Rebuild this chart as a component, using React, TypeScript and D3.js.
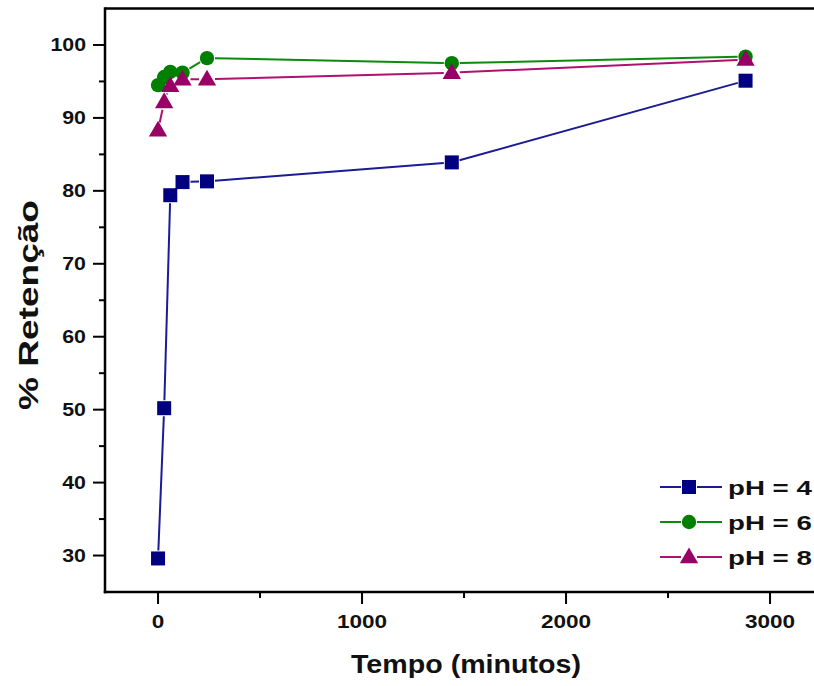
import React from "react";
import * as d3 from "d3";

const times = [0, 30, 60, 120, 240, 1440, 2880];
const ph4 = [29.6, 50.2, 79.4, 81.2, 81.3, 83.9, 95.1];
const ph6 = [94.5, 95.6, 96.3, 96.2, 98.2, 97.5, 98.4];
const ph8 = [88.3, 92.2, 94.4, 95.3, 95.3, 96.2, 98.0];
const seriesNames = ["pH = 4", "pH = 6", "pH = 8"];
const xMajor = [0, 1000, 2000, 3000];
const xMinor = [500, 1500, 2500];
const yMajor = [30, 40, 50, 60, 70, 80, 90, 100];
const yMinor = [35, 45, 55, 65, 75, 85, 95];

const W = 814;
const H = 686;
const left = 105;
const top = 8.5;
const bottom = 592;

const x = d3.scaleLinear().domain([-260, 3300]).range([left, left + 3560 * 0.204]);
const y = d3.scaleLinear().domain([25, 105]).range([bottom, top]);

const colors = [
  { line: "#1b1b96", fill: "#000080" },
  { line: "#0b8a0b", fill: "#008000" },
  { line: "#b0106e", fill: "#990066" },
];
const shapes = ["square", "circle", "triangle"];
const allSeries = [ph4, ph6, ph8];

function Marker({ shape, cx, cy, fill }: { shape: string; cx: number; cy: number; fill: string }) {
  if (shape === "square") return <rect x={cx - 7} y={cy - 7} width={14} height={14} fill={fill} />;
  if (shape === "circle") return <circle cx={cx} cy={cy} r={7.2} fill={fill} />;
  const p = d3.symbol().type(d3.symbolTriangle).size(145)();
  return <path d={p || ""} transform={`translate(${cx},${cy + 1})`} fill={fill} />;
}

function segments(vals: number[], gap: number) {
  const segs: [number, number, number, number][] = [];
  for (let i = 0; i < vals.length - 1; i++) {
    const x1 = x(times[i]), y1 = y(vals[i]), x2 = x(times[i + 1]), y2 = y(vals[i + 1]);
    const dx = x2 - x1, dy = y2 - y1;
    const len = Math.hypot(dx, dy);
    if (len <= gap * 2) continue;
    const ux = dx / len, uy = dy / len;
    segs.push([x1 + ux * gap, y1 + uy * gap, x2 - ux * gap, y2 - uy * gap]);
  }
  return segs;
}

const font = "'Liberation Sans', Arial, sans-serif";

function SText({ x: tx, y: ty, sx, anchor, size, children }: any) {
  return (
    <text
      transform={`translate(${tx},${ty}) scale(${sx},1)`}
      textAnchor={anchor}
      fontFamily={font}
      fontWeight="bold"
      fontSize={size}
      fill="#111"
    >
      {children}
    </text>
  );
}

export default function App() {
  return (
    <svg width={W} height={H} style={{ position: "absolute", left: 0, top: 0, background: "#fff" }}>
      <rect x={0} y={0} width={W} height={H} fill="#fff" />
      {allSeries.map((vals, si) =>
        segments(vals, 8).map((s, i) => (
          <line key={`${si}-${i}`} x1={s[0]} y1={s[1]} x2={s[2]} y2={s[3]} stroke={colors[si].line} strokeWidth={2} />
        ))
      )}
      {allSeries.map((vals, si) =>
        vals.map((v, i) => (
          <Marker key={`m${si}-${i}`} shape={shapes[si]} cx={x(times[i])} cy={y(v)} fill={colors[si].fill} />
        ))
      )}
      <line x1={left} y1={top} x2={W + 10} y2={top} stroke="#000" strokeWidth={2.5} />
      <line x1={left} y1={top - 1.25} x2={left} y2={bottom + 1.25} stroke="#000" strokeWidth={2.5} />
      <line x1={left - 1.25} y1={bottom} x2={W + 10} y2={bottom} stroke="#000" strokeWidth={2.5} />
      {yMajor.map((v) => (
        <g key={`ym${v}`}>
          <line x1={left - 12} x2={left} y1={y(v)} y2={y(v)} stroke="#000" strokeWidth={2} />
          <SText x={left - 19} y={y(v) + 6.5} sx={1.22} anchor="end" size={17.5}>
            {v}
          </SText>
        </g>
      ))}
      {yMinor.map((v) => (
        <line key={`yn${v}`} x1={left - 6} x2={left} y1={y(v)} y2={y(v)} stroke="#000" strokeWidth={2} />
      ))}
      {xMajor.map((v) => (
        <g key={`xm${v}`}>
          <line x1={x(v)} x2={x(v)} y1={bottom} y2={bottom + 12} stroke="#000" strokeWidth={2} />
          <SText x={x(v)} y={bottom + 36} sx={1.22} anchor="middle" size={18.5}>
            {v}
          </SText>
        </g>
      ))}
      {xMinor.map((v) => (
        <line key={`xn${v}`} x1={x(v)} x2={x(v)} y1={bottom} y2={bottom + 6} stroke="#000" strokeWidth={2} />
      ))}
      <text
        x={466}
        y={673}
        textAnchor="middle"
        fontFamily={font}
        fontWeight="bold"
        fontSize={26}
        textLength={230}
        lengthAdjust="spacingAndGlyphs"
        fill="#111"
      >
        Tempo (minutos)
      </text>
      <text
        transform={`translate(38,305) rotate(-90)`}
        textAnchor="middle"
        fontFamily={font}
        fontWeight="bold"
        fontSize={27}
        textLength={210}
        lengthAdjust="spacingAndGlyphs"
        fill="#111"
      >
        % Retenção
      </text>
      {seriesNames.map((name, i) => {
        const ly = 487 + i * 35;
        return (
          <g key={name}>
            <line x1={660} x2={681} y1={ly} y2={ly} stroke={colors[i].line} strokeWidth={2} />
            <line x1={697} x2={722} y1={ly} y2={ly} stroke={colors[i].line} strokeWidth={2} />
            <Marker shape={shapes[i]} cx={689} cy={ly} fill={colors[i].fill} />
            <SText x={728} y={ly + 7.5} sx={1.35} anchor="start" size={20.5}>
              {name}
            </SText>
          </g>
        );
      })}
    </svg>
  );
}
